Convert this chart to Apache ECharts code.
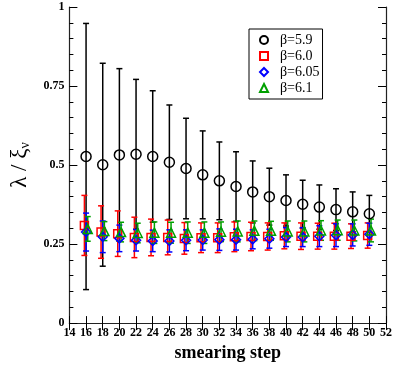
<!DOCTYPE html>
<html>
<head>
    <meta charset="utf-8">
    <title>ECharts</title>
    <script src="https://cdn.jsdelivr.net/npm/echarts@6/dist/echarts.min.js"></script>
</head>
<body style="margin:0">
<div id="main" style="width: 395px;height:367px;"></div>
</body>

<script type="text/javascript">

    // smearing steps
    var steps = [16, 18, 20, 22, 24, 26, 28, 30, 32, 34, 36, 38, 40, 42, 44, 46, 48, 50];

    // beta = 5.9
    var b59 = [0.527, 0.501, 0.532, 0.534, 0.527, 0.509, 0.489, 0.469, 0.450, 0.432, 0.415, 0.400, 0.388, 0.376, 0.367, 0.359, 0.352, 0.346];
    var b59Err = [0.421, 0.321, 0.273, 0.237, 0.208, 0.181, 0.159, 0.139, 0.123, 0.110, 0.098, 0.090, 0.081, 0.076, 0.070, 0.066, 0.063, 0.058];

    // beta = 6.0
    var b60 = [0.309, 0.288, 0.283, 0.271, 0.271, 0.271, 0.268, 0.270, 0.270, 0.273, 0.274, 0.274, 0.276, 0.275, 0.275, 0.275, 0.275, 0.277];
    var b60Err = [0.095, 0.083, 0.072, 0.064, 0.058, 0.055, 0.050, 0.047, 0.047, 0.047, 0.045, 0.043, 0.041, 0.042, 0.041, 0.041, 0.039, 0.040];

    // beta = 6.05
    var b605 = [0.288, 0.273, 0.268, 0.262, 0.260, 0.260, 0.262, 0.263, 0.264, 0.264, 0.265, 0.267, 0.272, 0.272, 0.275, 0.278, 0.279, 0.281];
    var b605Err = [0.060, 0.050, 0.042, 0.034, 0.034, 0.035, 0.033, 0.032, 0.034, 0.033, 0.030, 0.030, 0.030, 0.030, 0.033, 0.036, 0.035, 0.035];

    // beta = 6.1
    var b61 = [0.298, 0.291, 0.288, 0.285, 0.286, 0.286, 0.286, 0.286, 0.289, 0.290, 0.292, 0.292, 0.290, 0.290, 0.293, 0.294, 0.293, 0.293];
    var b61Err = [0.039, 0.030, 0.031, 0.031, 0.034, 0.033, 0.034, 0.034, 0.031, 0.033, 0.031, 0.030, 0.033, 0.033, 0.031, 0.032, 0.033, 0.036];

    var xTicks = [14, 52, 2];
    var yTicks = [0, 1, 0.25];

    var serif = 'Liberation Serif, Times New Roman, serif';

    function errSeries(ys, errs, color, shift) {
        return {
            type: 'custom',
            data: steps.map(function (x, i) { return [x + shift, ys[i] - errs[i], ys[i] + errs[i]]; }),
            encode: {x: 0, y: [1, 2]},
            renderItem: function (params, api) {
                var lo = api.coord([api.value(0), api.value(1)]);
                var hi = api.coord([api.value(0), api.value(2)]);
                var c = 3;
                var st = {stroke: color, lineWidth: 1.5};
                return {
                    type: 'group',
                    children: [
                        {type: 'line', shape: {x1: lo[0], y1: lo[1], x2: hi[0], y2: hi[1]}, style: st},
                        {type: 'line', shape: {x1: lo[0] - c, y1: lo[1], x2: lo[0] + c, y2: lo[1]}, style: st},
                        {type: 'line', shape: {x1: hi[0] - c, y1: hi[1], x2: hi[0] + c, y2: hi[1]}, style: st}
                    ]
                };
            },
            silent: true
        };
    }

    function markSeries(name, ys, color, symbol, size, shift) {
        return {
            type: 'scatter',
            name: name,
            symbol: symbol,
            symbolSize: size,
            data: steps.map(function (x, i) { return [x + shift, ys[i]]; }),
            itemStyle: {color: 'rgba(0,0,0,0)', borderColor: color, borderWidth: 1.5, opacity: 1}
        };
    }

    var myChart = echarts.init(document.getElementById('main'));

    var axisLine = {show: true, lineStyle: {color: '#222', width: 1.2}};

    myChart.setOption({
        animation: false,
        grid: {left: 63, right: 8, top: 7, bottom: 37},
        legend: {
            orient: 'vertical',
            left: 249,
            top: 29,
            data: ['β=5.9', 'β=6.0', 'β=6.05', 'β=6.1'],
            borderColor: '#000',
            borderWidth: 1,
            borderRadius: 0,
            padding: [4, 3, 4, 10],
            itemGap: 2,
            itemWidth: 8,
            itemHeight: 8,
            textStyle: {fontFamily: serif, fontSize: 14, color: '#000', padding: [0, 0, 0, 7]}
        },
        xAxis: [{
            type: 'value',
            min: xTicks[0], max: xTicks[1], interval: xTicks[2],
            axisLine: axisLine,
            axisTick: {inside: true, length: 7, lineStyle: {color: '#000'}},
            axisLabel: {fontFamily: serif, fontWeight: 'bold', fontSize: 12, color: '#000', margin: 4},
            splitLine: {show: false},
            name: 'smearing step',
            nameLocation: 'middle',
            nameGap: 16,
            nameTextStyle: {fontFamily: serif, fontWeight: 'bold', fontSize: 18, color: '#000'}
        }, {
            type: 'value', position: 'top',
            min: xTicks[0], max: xTicks[1], interval: xTicks[2],
            axisLine: axisLine,
            axisTick: {inside: true, length: 7, lineStyle: {color: '#000'}},
            axisLabel: {show: false},
            splitLine: {show: false}
        }],
        yAxis: [{
            type: 'value',
            min: yTicks[0], max: yTicks[1], interval: yTicks[2],
            axisLine: axisLine,
            axisTick: {inside: true, length: 8, lineStyle: {color: '#000'}},
            minorTick: {show: true, splitNumber: 5, length: 4, lineStyle: {color: '#000'}},
            axisLabel: {fontFamily: serif, fontWeight: 'bold', fontSize: 12, color: '#000', margin: 5},
            splitLine: {show: false},
            name: '{a|λ / ξ}{b|ν}',
            nameLocation: 'middle',
            nameGap: 32,
            nameRotate: 90,
            nameTextStyle: {
                rich: {
                    a: {fontFamily: serif, fontSize: 23, color: '#000'},
                    b: {fontFamily: serif, fontSize: 14, color: '#000', padding: [12, 0, 0, 0]}
                }
            }
        }, {
            type: 'value', position: 'right',
            min: yTicks[0], max: yTicks[1], interval: yTicks[2],
            axisLine: axisLine,
            axisTick: {inside: true, length: 8, lineStyle: {color: '#000'}},
            minorTick: {show: true, splitNumber: 5, length: 4, lineStyle: {color: '#000'}},
            axisLabel: {show: false},
            splitLine: {show: false}
        }],
        series: [
            errSeries(b59, b59Err, '#000000', 0),
            markSeries('β=5.9', b59, '#000000', 'circle', 10, 0),
            errSeries(b60, b60Err, '#ff0000', -0.2),
            markSeries('β=6.0', b60, '#ff0000', 'rect', 8, -0.2),
            errSeries(b605, b605Err, '#0000ff', 0),
            markSeries('β=6.05', b605, '#0000ff', 'diamond', 9, 0),
            errSeries(b61, b61Err, '#00a000', 0.2),
            markSeries('β=6.1', b61, '#00a000', 'triangle', 9, 0.2)
        ]
    });

</script>
</html>
